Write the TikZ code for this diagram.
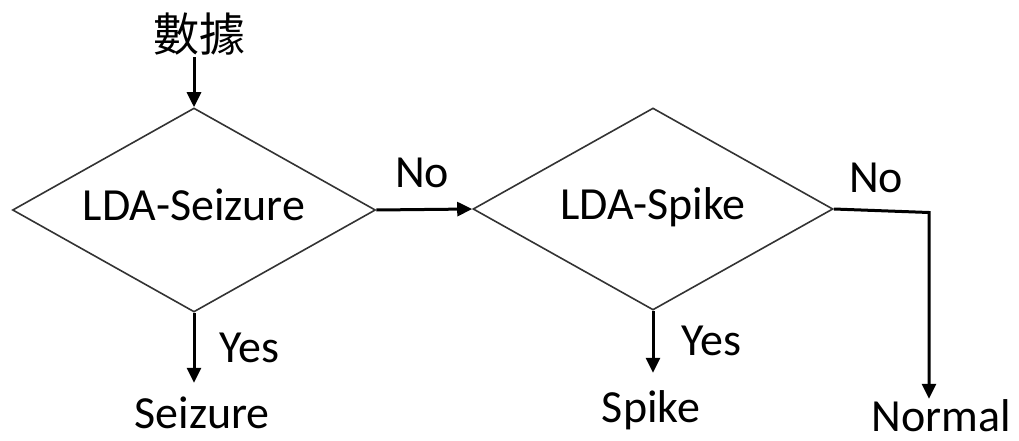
\documentclass[tikz,border=0pt]{standalone}
\usepackage{fontspec}
\setmainfont{Carlito}
\newfontfamily\cjkfont{Noto Sans CJK TC}
\usetikzlibrary{shapes.geometric,arrows.meta}
\begin{document}
\begin{tikzpicture}[x=1pt,y=-1pt,
  txt/.style={font=\fontsize{46}{50}\selectfont, inner sep=0pt},
  decision/.style={diamond, aspect=1.78, draw=black!80, line width=1.6pt, inner sep=0pt,
    font=\fontsize{46}{50}\selectfont, text height=31pt, text depth=10pt},
  result/.style={txt, anchor=base, text height=30pt, text depth=0pt, inner ysep=2pt},
  elabel/.style={txt, anchor=base},
  arr/.style={line width=3pt, -{Triangle[length=15pt,width=14pt]}}]
\useasboundingbox (0,0) rectangle (1019,441);

% input
\node[font=\fontsize{46}{50}\selectfont\cjkfont, inner sep=2pt] (src) at (199,34) {數據};

% decisions
\node[decision, minimum width=363pt, minimum height=204pt] (d1) at (194,210) {LDA-Seizure};
\node[decision, minimum width=360pt, minimum height=202pt] (d2) at (653,209) {LDA-Spike};

% outcomes
\node[result] (seiz) at (202,428) {Seizure};
\node[result] (spk) at (651,422) {Spike};
\node[result] (norm) at (941,431) {Normal};

% branch labels
\node[elabel] (no1) at (422,187) {No};
\node[elabel] (no2) at (876,192) {No};
\node[elabel] (yes1) at (249,362) {Yes};
\node[elabel] (yes2) at (711,355) {Yes};

\coordinate (bend) at (929,212.5);

% connectors
\draw[arr] (src.south -| d1.north) -- (d1.north);
\draw[arr] (d1.east) -- (d2.west);
\draw[arr, shorten >=13pt] (d1.south) -- (d1.south |- seiz.north);
\draw[arr, shorten >=17pt] (d2.south) -- (d2.south |- spk.north);
\draw[arr] (d2.east) -- (bend) -- (bend |- norm.north);
\end{tikzpicture}
\end{document}
